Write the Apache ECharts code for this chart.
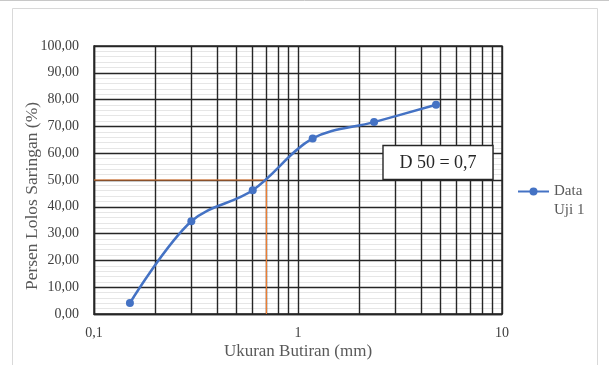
<!DOCTYPE html>
<html>
<head>
<meta charset="utf-8">
<script src="https://cdn.jsdelivr.net/npm/echarts@6/dist/echarts.min.js"></script>
<style>html,body{margin:0;padding:0;background:#fff;}#c{width:609px;height:365px;}</style>
</head>
<body>
<div id="c"></div>
<script>
var sieveSizes = [0.15, 0.3, 0.6, 1.18, 2.36, 4.75];
var passingPct = [4.1, 34.6, 46.2, 65.5, 71.6, 78.1];
var d50Guide = [[0.1, 50], [0.7, 50], [0.7, 0]];
var verticalGrid = [0.2, 0.3, 0.4, 0.5, 0.6, 0.7, 0.8, 0.9, 2, 3, 4, 5, 6, 7, 8, 9];
var minorHorizontal = [];
for (var k = 2; k < 100; k += 2) { if (k % 10 !== 0) minorHorizontal.push(k); }
var seriesName = 'Data Uji 1';
var noteText = 'D 50 = 0,7';

var chart = echarts.init(document.getElementById('c'));
var FONT = '"Liberation Serif", "Times New Roman", serif';
var gridColor = '#262626';
chart.setOption({
  animation: false,
  backgroundColor: '#fff',
  grid: {left: 94, top: 46, right: 107, bottom: 49, show: true, z: 3, borderColor: gridColor, borderWidth: 1.4, containLabel: false},
  xAxis: {
    type: 'log', logBase: 10, min: 0.1, max: 10, z: 3,
    name: 'Ukuran Butiran (mm)', nameLocation: 'middle', nameGap: 29, nameMoveOverlap: false,
    nameTextStyle: {fontFamily: FONT, fontSize: 17, color: '#595959'},
    axisLine: {show: true, lineStyle: {color: gridColor, width: 1.4}},
    axisTick: {show: false},
    axisLabel: {fontFamily: FONT, fontSize: 14, color: '#404040', margin: 12,
      formatter: function (v) { return String(+v.toPrecision(6)).replace('.', ','); }},
    splitLine: {show: true, lineStyle: {color: gridColor, width: 1.4}}
  },
  yAxis: {
    type: 'value', min: 0, max: 100, interval: 10, z: 3,
    name: 'Persen Lolos Saringan (%)', nameLocation: 'middle', nameGap: 53, nameMoveOverlap: false,
    nameTextStyle: {fontFamily: FONT, fontSize: 17.5, color: '#595959', padding: [0, 32, 0, 0]},
    axisLine: {show: true, lineStyle: {color: gridColor, width: 1.4}},
    axisTick: {show: false},
    axisLabel: {fontFamily: FONT, fontSize: 14, color: '#404040', margin: 15,
      formatter: function (v) { return v.toFixed(2).replace('.', ','); }},
    splitLine: {show: true, lineStyle: {color: gridColor, width: 1.4}}
  },
  legend: {
    data: [seriesName],
    orient: 'vertical', left: 512, top: 158,
    itemWidth: 31, itemHeight: 10, itemGap: 0,
    formatter: function () { return ' \nData\nUji 1'; },
    textStyle: {fontFamily: FONT, fontSize: 15, color: '#595959', lineHeight: 19}
  },
  graphic: [
    {type: 'rect', shape: {x: 12.5, y: 8.5, width: 585, height: 380}, style: {fill: 'none', stroke: '#d9d9d9', lineWidth: 1}, z: -10, silent: true},
    {type: 'line', shape: {x1: 0, y1: 0.5, x2: 609, y2: 0.5}, style: {stroke: '#c8c8c8', lineWidth: 1}, silent: true},
    {type: 'rect', shape: {x: 383, y: 145.5, width: 110, height: 34}, style: {fill: '#fff', stroke: '#262626', lineWidth: 1.4}, z: 100, silent: true},
    {type: 'text', x: 438, y: 163, style: {text: noteText, fontFamily: FONT, fontSize: 18, fill: '#262626', align: 'center', verticalAlign: 'middle'}, z: 101, silent: true}
  ],
  series: [
    {
      name: 'minorGrid', type: 'line', data: [], silent: true, z: 1,
      markLine: {silent: true, symbol: 'none', label: {show: false}, z: 1,
        lineStyle: {color: '#e6e6e6', width: 1, type: 'solid'},
        data: minorHorizontal.map(function (v) { return {yAxis: v}; })}
    },
    {
      name: 'vGrid', type: 'line', data: [], silent: true, z: 2,
      markLine: {silent: true, symbol: 'none', label: {show: false}, z: 2,
        lineStyle: {color: gridColor, width: 1.4, type: 'solid'},
        data: verticalGrid.map(function (v) { return {xAxis: v}; })}
    },
    {
      name: 'guide', type: 'line', data: d50Guide, symbol: 'none', silent: true, z: 4,
      lineStyle: {color: '#ED7D31', width: 1.2}
    },
    {
      name: seriesName, type: 'line', z: 5,
      data: sieveSizes.map(function (x, i) { return [x, passingPct[i]]; }),
      smooth: 0.35, symbol: 'circle', symbolSize: 8,
      lineStyle: {color: '#4472C4', width: 2.5},
      itemStyle: {color: '#4472C4'}
    }
  ]
});
</script>
</body>
</html>
